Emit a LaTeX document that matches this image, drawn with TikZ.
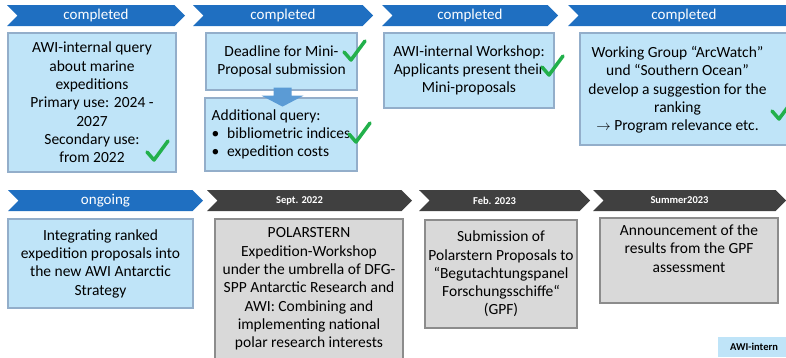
\documentclass[tikz,border=0pt]{standalone}
\usepackage{fontspec}
\setmainfont{Carlito}
\usetikzlibrary{shapes.symbols}

\definecolor{PhaseBlue}{HTML}{1F6FC1}
\definecolor{PhaseGrey}{HTML}{404040}
\definecolor{BoxBlue}{HTML}{BFE4F8}
\definecolor{BoxBlueLine}{HTML}{93AECA}
\definecolor{BoxGrey}{HTML}{D9D9D9}
\definecolor{BoxGreyLine}{HTML}{8C8C8C}
\definecolor{TickGreen}{HTML}{22B04B}
\definecolor{ArrowBlue}{HTML}{5B9BD5}

\tikzstyle{phase}=[signal, signal to=east, signal from=west, minimum height=21pt, inner sep=0pt, text=white, font=\fontsize{15}{17}\selectfont]
\tikzstyle{phase-done}=[phase, fill=PhaseBlue]
\tikzstyle{phase-date}=[phase, fill=PhaseGrey, font=\fontsize{10.5}{12}\selectfont\bfseries, execute at end node=\hspace*{20pt}]
\tikzstyle{task}=[rectangle, line width=1.2pt, align=center, inner sep=0pt, font=\fontsize{15.5}{18.3}\selectfont]
\tikzstyle{task-awi}=[task, fill=BoxBlue, draw=BoxBlueLine]
\tikzstyle{task-ext}=[task, fill=BoxGrey, draw=BoxGreyLine]
\tikzset{done-tick/.pic={\draw[TickGreen, line width=3.5pt, line cap=round, line join=round] (-10,1) -- (-3,9) -- (11,-10);}}

\begin{document}
\begin{tikzpicture}[x=1pt, y=-1pt]
      \useasboundingbox (0,0) rectangle (786,357);
      \clip (0,0) rectangle (786,357);

      \node (phase-1) at (96,  15.5) [phase-done, minimum width=178pt] {completed};
      \node (phase-2) at (283, 15.5) [phase-done, minimum width=180pt] {completed};
      \node (phase-3) at (470, 15.5) [phase-done, minimum width=176pt] {completed};
      \node (phase-4) at (684, 15.5) [phase-done, minimum width=232pt] {completed};

      \node (task-1) at (92,    102.5) [task-awi, minimum width=168pt, minimum height=139pt] {AWI-internal query\\about marine\\expeditions\\Primary use: 2024 -\\2027\\Secondary use:\\from 2022};
      \node (task-2) at (281.5, 61.5)  [task-awi, minimum width=151pt, minimum height=57pt] {Deadline for Mini-\\Proposal submission};
      \node (task-3) at (281,   134.5) [task-awi, minimum width=152pt, minimum height=73pt, align=left] {Additional query:\\\textbullet\enspace bibliometric indices\\\textbullet\enspace expedition costs};
      \node (task-4) at (469,   70.5)  [task-awi, minimum width=170pt, minimum height=75pt] {AWI-internal Workshop:\\Applicants present their\\Mini-proposals};
      \node (task-5) at (685,   89)    [task-awi, minimum width=210pt, minimum height=112pt] {};
      \node (task-5-text) at (677.5, 90) [task] {Working Group “ArcWatch”\\und “Southern Ocean”\\develop a suggestion for the\\ranking\\$\rightarrow$ Program relevance etc.};

      \fill[ArrowBlue] (task-2.south) ++(-8,-3) -- ++(18,0) -- ++(0,8) -- ++(12,0) -- ++(-21,11) -- ++(-21,-11) -- ++(12,0) -- cycle;

      \pic at (157, 151) {done-tick};
      \pic at (354, 51)  {done-tick};
      \pic at (359, 133) {done-tick};
      \pic at (552, 66)  {done-tick};
      \pic at (782, 110) {done-tick};

      \node (phase-5) at (105.5, 200.5) [phase-done, minimum width=195pt] {ongoing};
      \node (phase-6) at (309.5, 200.5) [phase-date, minimum width=205pt] {Sept. 2022};
      \node (phase-7) at (504.5, 200.5) [phase-date, minimum width=171pt] {Feb. 2023};
      \node (phase-8) at (689.5, 200.5) [phase-date, minimum width=193pt] {Summer2023};

      \node (task-6) at (100.5, 263.5) [task-awi, minimum width=185pt, minimum height=89pt] {Integrating ranked\\expedition proposals into\\the new AWI Antarctic\\Strategy};
      \node (task-7) at (309,   289)   [task-ext, minimum width=188pt, minimum height=140pt] {POLARSTERN\\Expedition-Workshop\\under the umbrella of DFG-\\SPP Antarctic Research and\\AWI: Combining and\\implementing national\\polar research interests};
      \node (task-8) at (501,   274)   [task-ext, minimum width=152pt, minimum height=108pt] {Submission of\\Polarstern Proposals to\\“Begutachtungspanel\\Forschungsschiffe“\\(GPF)};
      \node (task-9) at (689,   260.5) [task-ext, minimum width=178pt, minimum height=85pt] {Announcement of the\\results from the GPF\\assessment\\\strut};

      \node (legend) at (754, 347) [fill=BoxBlue, minimum width=72pt, minimum height=20pt, font=\fontsize{10.5}{12}\selectfont\bfseries] {AWI-intern};
    \end{tikzpicture}
\end{document}
